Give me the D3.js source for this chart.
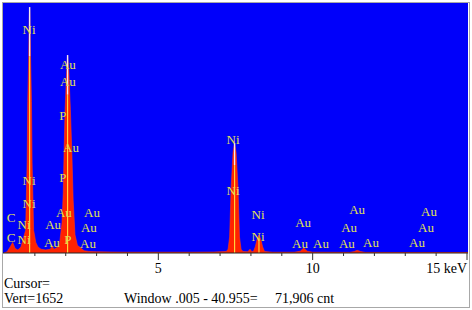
<!DOCTYPE html>
<html>
<head>
<meta charset="utf-8">
<script src="https://cdn.jsdelivr.net/npm/d3@7"></script>
<style>
  html, body { margin: 0; padding: 0; background: #fff; }
  svg { display: block; }
</style>
</head>
<body>
<div id="chart"></div>
<script>
// spectrum: energy (keV) and counts
const energy = [0.0, 0.1, 0.2, 0.28, 0.36, 0.45, 0.55, 0.62, 0.70, 0.75, 0.77, 0.80, 0.82, 0.83, 0.84, 0.86, 0.89, 0.91, 0.96, 1.03, 1.1, 1.2, 1.35, 1.5, 1.56, 1.62, 1.75, 1.80, 1.88, 1.92, 1.95, 1.98, 2.02, 2.06, 2.10, 2.15, 2.20, 2.24, 2.30, 2.38, 2.45, 2.5, 2.6, 2.75, 3.0, 3.5, 4.0, 5.0, 6.0, 6.8, 7.2, 7.26, 7.31, 7.36, 7.42, 7.47, 7.52, 7.58, 7.63, 7.68, 7.74, 7.9, 7.97, 8.03, 8.08, 8.14, 8.20, 8.26, 8.32, 8.38, 8.44, 8.7, 9.4, 9.6, 9.71, 9.82, 10.0, 11.2, 11.35, 11.44, 11.55, 11.7, 13.0, 15.2];
const counts = [0, 8, 40, 70, 30, 20, 40, 90, 150, 600, 1000, 1300, 1560, 1625, 1560, 1300, 1000, 600, 150, 70, 40, 25, 20, 25, 45, 25, 40, 60, 200, 400, 700, 950, 1150, 1308, 1200, 950, 650, 350, 120, 50, 40, 30, 15, 10, 8, 6, 5, 5, 5, 6, 10, 25, 106, 436, 660, 727, 660, 436, 106, 25, 10, 8, 25, 8, 10, 40, 90, 119, 90, 40, 10, 5, 5, 12, 33, 12, 5, 4, 10, 18, 10, 4, 3, 3];

// peak labels: text, energy (keV), height (counts at text baseline)
const labelText = ["Ni", "Au", "Au", "P", "Au", "P", "Au", "Au", "Au", "Au", "Au", "P", "Au", "C", "Ni", "Ni", "Ni", "C", "Ni", "Ni", "Ni", "Ni", "Ni", "Au", "Au", "Au", "Au", "Au", "Au", "Au", "Au", "Au", "Au"];
const labelKeV = [0.81, 2.07, 2.07, 1.91, 2.17, 1.91, 1.94, 2.85, 1.59, 2.75, 1.55, 2.07, 2.72, 0.23, 0.81, 0.81, 0.65, 0.23, 0.65, 7.42, 7.42, 8.23, 8.23, 9.69, 9.59, 10.27, 11.11, 11.44, 11.18, 11.89, 13.38, 13.77, 13.67];
const labelCounts = [1447, 1216, 1104, 879, 667, 469, 238, 238, 159, 139, 40, 59, 33, 205, 449, 297, 159, 73, 59, 720, 383, 225, 79, 172, 33, 33, 33, 258, 139, 40, 40, 244, 139];

// main peak centres (for the highlight stripes)
const peakKeV = [0.83, 2.06, 7.47, 8.26];
const peakCounts = [1625, 1308, 727, 119];

const majorTicks = [5, 10];
const vertScale = 1652;
const cursorText = "Cursor=";
const vertText = "Vert=" + vertScale;
const windowText = "Window .005 - 40.955=";
const totalText = "71,906 cnt";

const W = 472, H = 310;
const plot = { left: 3, right: 468, top: 3, bottom: 253 };

const svg = d3.select("#chart").append("svg")
  .attr("width", W)
  .attr("height", H);

const x = d3.scaleLinear().domain([0, 15]).range([4, 467]);
const y = d3.scaleLinear().domain([0, vertScale]).range([plot.bottom, plot.top]);

// blue background
svg.append("rect")
  .attr("x", plot.left).attr("y", plot.top)
  .attr("width", plot.right - plot.left)
  .attr("height", plot.bottom - plot.top)
  .attr("fill", "#0000fa");

const clip = svg.append("clipPath").attr("id", "clip")
  .append("rect")
  .attr("x", plot.left).attr("y", plot.top)
  .attr("width", plot.right - plot.left)
  .attr("height", plot.bottom - plot.top);

const spectrum = energy.map((e, i) => [e, counts[i]]);

const area = d3.area()
  .x(d => x(d[0]))
  .y0(y(0))
  .y1(d => y(d[1]));

const g = svg.append("g").attr("clip-path", "url(#clip)");

g.append("path")
  .datum(spectrum)
  .attr("d", area)
  .attr("fill", "#ff2200")
  .attr("stroke", "#ff3a10")
  .attr("stroke-width", 0.6);

// yellow / white stripes inside the big peaks
const peaks = peakKeV.map((e, i) => ({ e, c: peakCounts[i] }));
g.selectAll("line.stripe")
  .data(peaks)
  .join("line")
  .attr("class", "stripe")
  .attr("x1", d => x(d.e)).attr("x2", d => x(d.e))
  .attr("y1", y(0))
  .attr("y2", d => y(d.c * 0.8))
  .attr("stroke", "#ffd23c")
  .attr("stroke-width", 1.2);

g.selectAll("line.tip")
  .data(peaks.filter(d => d.c > 500))
  .join("line")
  .attr("class", "tip")
  .attr("x1", d => x(d.e)).attr("x2", d => x(d.e))
  .attr("y1", d => y(d.c * 0.8))
  .attr("y2", d => y(d.c))
  .attr("stroke", "#f4e8f0")
  .attr("stroke-width", 1.4);

// labels
svg.append("g")
  .selectAll("text")
  .data(labelText.map((t, i) => ({ t, e: labelKeV[i], c: labelCounts[i] })))
  .join("text")
  .attr("x", d => x(d.e))
  .attr("y", d => y(d.c))
  .attr("text-anchor", "middle")
  .attr("font-family", "'Liberation Serif', 'Times New Roman', serif")
  .attr("font-size", 13)
  .attr("fill", "#e2e052")
  .text(d => d.t);

// x axis
const axis = svg.append("g").attr("transform", `translate(0,${plot.bottom})`);
axis.append("line")
  .attr("x1", plot.left).attr("x2", plot.right)
  .attr("stroke", "#222");
axis.selectAll("line.tick")
  .data(d3.range(1, 16))
  .join("line")
  .attr("class", "tick")
  .attr("x1", d => x(d)).attr("x2", d => x(d))
  .attr("y1", 0)
  .attr("y2", d => majorTicks.includes(d) || d === 15 ? 7 : 3)
  .attr("stroke", "#333");

const font = "'Liberation Serif', 'Times New Roman', serif";
axis.selectAll("text.tl")
  .data(majorTicks)
  .join("text")
  .attr("class", "tl")
  .attr("x", d => x(d))
  .attr("y", 20)
  .attr("text-anchor", "middle")
  .attr("font-family", font)
  .attr("font-size", 14)
  .text(d => d);
axis.append("text")
  .attr("x", plot.right - 1)
  .attr("y", 20)
  .attr("text-anchor", "end")
  .attr("font-family", font)
  .attr("font-size", 14)
  .text("15 keV");

// status lines
const status = svg.append("g")
  .attr("font-family", font)
  .attr("font-size", 14)
  .attr("fill", "#000");
status.append("text").attr("x", 4).attr("y", 288).text(cursorText);
status.append("text").attr("x", 4).attr("y", 303).text(vertText);
status.append("text").attr("x", 124).attr("y", 303).text(windowText);
status.append("text").attr("x", 275).attr("y", 303).text(totalText);

// frame
svg.append("rect")
  .attr("x", 2.5).attr("y", 2.5)
  .attr("width", 467).attr("height", 305)
  .attr("fill", "none")
  .attr("stroke", "#a8a8a8");
</script>
</body>
</html>
